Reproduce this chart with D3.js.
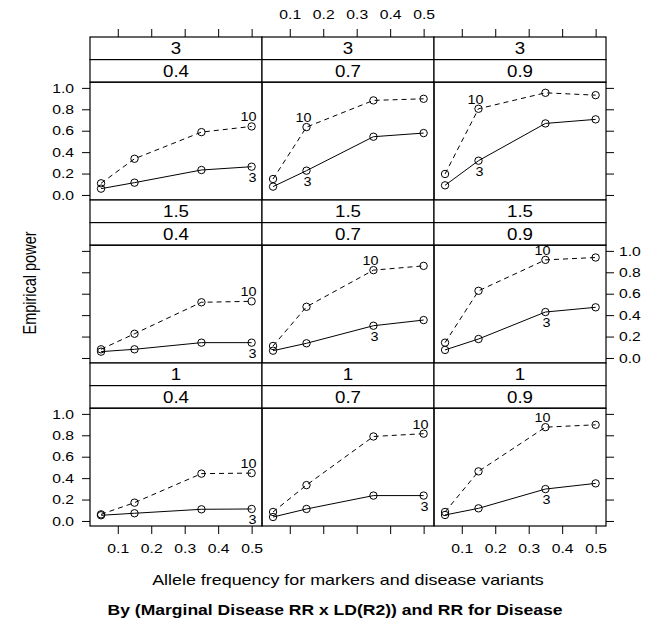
<!DOCTYPE html>
<html><head><meta charset="utf-8">
<script src="https://cdn.jsdelivr.net/npm/d3@7"></script>
<style>body{margin:0;background:#fff}svg{display:block}text{font-family:"Liberation Sans",Arial,sans-serif}</style>
</head><body><svg id="c" width="649" height="626"></svg>
<script>
// ---- data ----
const freqs = [0.05, 0.15, 0.35, 0.5];
const rrLevels = ["3", "1.5", "1"];          // outer strip (rows, top to bottom)
const ldLevels = ["0.4", "0.7", "0.9"];      // inner strip (columns)
const xTicks = [0.1, 0.2, 0.3, 0.4, 0.5];
const yTicks = [0.0, 0.2, 0.4, 0.6, 0.8, 1.0];
// Empirical power, RR = 10 (dashed) and RR = 3 (solid), panels row-major
const power10 = [
  [0.109, 0.338, 0.587, 0.640], [0.149, 0.634, 0.883, 0.898], [0.196, 0.805, 0.954, 0.932],
  [0.081, 0.226, 0.520, 0.529], [0.112, 0.478, 0.820, 0.860], [0.143, 0.627, 0.916, 0.938],
  [0.062, 0.171, 0.442, 0.447], [0.084, 0.335, 0.789, 0.815], [0.084, 0.463, 0.876, 0.898]
];
const power3 = [
  [0.059, 0.115, 0.233, 0.264], [0.078, 0.227, 0.544, 0.578], [0.090, 0.320, 0.668, 0.706],
  [0.059, 0.081, 0.143, 0.143], [0.068, 0.137, 0.301, 0.354], [0.075, 0.177, 0.429, 0.473],
  [0.053, 0.072, 0.109, 0.112], [0.037, 0.112, 0.237, 0.237], [0.056, 0.118, 0.298, 0.351]
];
// index of the point that carries each group's direct label
const label10At = [3, 1, 1, 3, 2, 2, 3, 3, 2];
const label3At  = [3, 1, 1, 3, 2, 2, 3, 3, 2];
const seriesNames = ["10", "3"];

// ---- layout ----
const svg = d3.select("#c");
const colX = [90, 262, 434], panelW = 172;
const rowTop = [37, 200, 363], stripH = 22.6, rowH = 163;
const tickLen = 8;
const fontTick = 13, fontStrip = 16;
const S = 1.21; // horizontal widening of glyphs seen in the reference
const black = "#000";

// horizontally widen text around its anchor (x attribute)
function widen(sel, s) {
  sel.each(function () {
    const t = d3.select(this);
    const x = +t.attr("x") || 0;
    const prev = t.attr("transform") || "";
    t.attr("transform", prev + ` translate(${x * (1 - s)},0) scale(${s},1)`);
  });
}

rrLevels.forEach((rr, r) => {
  ldLevels.forEach((ld, c) => {
    const k = r * 3 + c;
    const x0 = colX[c], top = rowTop[r];
    const pTop = top + 2 * stripH, pBot = top + rowH;
    const x = d3.scaleLinear().domain([0.017, 0.531]).range([x0, x0 + panelW]);
    const y = d3.scaleLinear().domain([-0.047, 1.053]).range([pBot, pTop]);
    const g = svg.append("g");

    // strips
    [rr, ld].forEach((lab, i) => {
      g.append("rect").attr("x", x0).attr("y", top + i * stripH).attr("width", panelW).attr("height", stripH)
        .attr("fill", "#fff").attr("stroke", black).attr("stroke-width", 1.2);
      g.append("text").attr("x", x0 + panelW / 2).attr("y", top + i * stripH + stripH / 2 + 6)
        .attr("text-anchor", "middle").attr("font-size", fontStrip).text(lab).call(widen, 1.17);
    });

    // lines
    const line = d3.line().x((d, i) => x(freqs[i])).y(d => y(d));
    [power10[k], power3[k]].forEach((vals, s) => {
      g.append("path").attr("d", line(vals)).attr("fill", "none").attr("stroke", black)
        .attr("stroke-width", 1).attr("stroke-dasharray", s === 0 ? "5,4" : null);
      g.selectAll(null).data(vals).enter().append("circle")
        .attr("cx", (d, i) => x(freqs[i])).attr("cy", d => y(d)).attr("r", 3.7)
        .attr("fill", "none").attr("stroke", black).attr("stroke-width", 1);
    });
    // direct labels
    const i10 = label10At[k], i3 = label3At[k];
    g.append("text").attr("x", x(freqs[i10]) - 3).attr("y", y(power10[k][i10]) - 5)
      .attr("text-anchor", "middle").attr("font-size", 12.5).text(seriesNames[0]).call(widen, 1.15);
    g.append("text").attr("x", x(freqs[i3]) + 1).attr("y", y(power3[k][i3]) + 15)
      .attr("text-anchor", "middle").attr("font-size", 12.5).text(seriesNames[1]).call(widen, 1.15);

    // panel border
    g.append("rect").attr("x", x0).attr("y", pTop).attr("width", panelW).attr("height", pBot - pTop)
      .attr("fill", "none").attr("stroke", black).attr("stroke-width", 1.2);

    // axes
    const axStyle = sel => {
      sel.select(".domain").remove();
      sel.selectAll("line").attr("stroke", black);
      sel.selectAll("text").attr("font-size", fontTick).attr("fill", black)
        .attr("font-family", '"Liberation Sans",Arial,sans-serif').call(widen, S);
    };
    const fmt = d3.format(".1f");
    if (r === 0) { // top
      const ax = d3.axisTop(x).tickValues(xTicks).tickSize(tickLen).tickPadding(10).tickFormat(c === 1 ? fmt : () => "");
      g.append("g").attr("transform", `translate(0,${top})`).call(ax).call(axStyle);
    }
    if (r === 2) { // bottom
      const ax = d3.axisBottom(x).tickValues(xTicks).tickSize(tickLen).tickPadding(10).tickFormat(c !== 1 ? fmt : () => "");
      g.append("g").attr("transform", `translate(0,${pBot})`).call(ax).call(axStyle);
    }
    if (c === 0) { // left
      const ax = d3.axisLeft(y).tickValues(yTicks).tickSize(tickLen).tickPadding(8).tickFormat(r !== 1 ? fmt : () => "");
      g.append("g").attr("transform", `translate(${x0},0)`).call(ax).call(axStyle);
    }
    if (c === 2) { // right
      const ax = d3.axisRight(y).tickValues(yTicks).tickSize(tickLen).tickPadding(5).tickFormat(r === 1 ? fmt : () => "");
      g.append("g").attr("transform", `translate(${x0 + panelW},0)`).call(ax).call(axStyle);
    }
  });
});

// axis titles
svg.append("text").attr("transform", `translate(36,283) rotate(-90) scale(1,${S})`).attr("text-anchor", "middle")
  .attr("font-size", 14.5).text("Empirical power");
svg.append("text").attr("x", 348).attr("y", 585).attr("text-anchor", "middle")
  .attr("font-size", 14.8).text("Allele frequency for markers and disease variants").call(widen, S);
svg.append("text").attr("x", 335).attr("y", 615).attr("text-anchor", "middle")
  .attr("font-size", 14.5).attr("font-weight", "bold").text("By (Marginal Disease RR x LD(R2)) and RR for Disease").call(widen, S);
</script></body></html>
